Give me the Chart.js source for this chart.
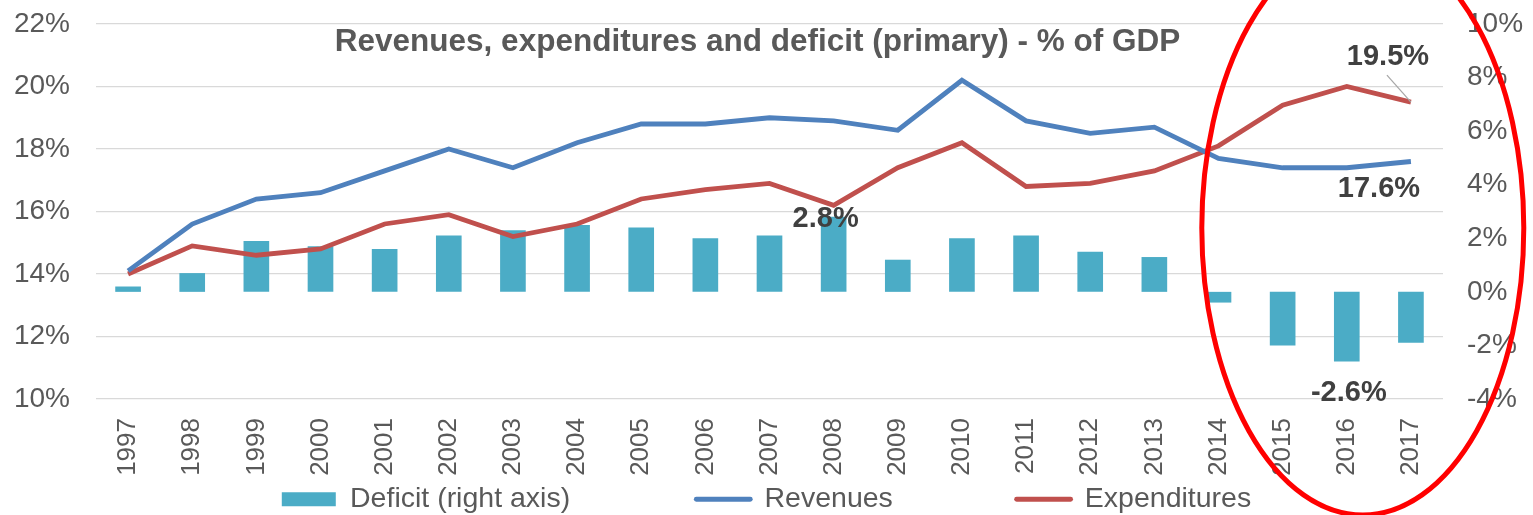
<!DOCTYPE html>
<html>
<head>
<meta charset="utf-8">
<script src="https://cdn.jsdelivr.net/npm/chart.js@4.4.0/dist/chart.umd.min.js"></script>
<style>
  html, body { margin: 0; padding: 0; background: #fff; }
  #wrap { width: 1533px; height: 515px; position: relative; }
</style>
</head>
<body>
<div id="wrap"><canvas id="chart"></canvas></div>
<script>
  const years = ["1997", "1998", "1999", "2000", "2001", "2002", "2003", "2004", "2005", "2006", "2007",
    "2008", "2009", "2010", "2011", "2012", "2013", "2014", "2015", "2016", "2017"];
  // primary deficit, % of GDP (right axis)
  const deficit = [0.2, 0.7, 1.9, 1.7, 1.6, 2.1, 2.3, 2.5, 2.4, 2.0, 2.1, 2.8, 1.2, 2.0, 2.1, 1.5, 1.3, -0.4, -2.0, -2.6, -1.9];
  const revenues = [14.1, 15.6, 16.4, 16.6, 17.3, 18.0, 17.4, 18.2, 18.8, 18.8, 19.0, 18.9, 18.6, 20.2, 18.9, 18.5, 18.7, 17.7, 17.4, 17.4, 17.6];
  const expenditures = [14.0, 14.9, 14.6, 14.8, 15.6, 15.9, 15.2, 15.6, 16.4, 16.7, 16.9, 16.2, 17.4, 18.2, 16.8, 16.9, 17.3, 18.1, 19.4, 20.0, 19.5];
  const leftTicks = [10, 12, 14, 16, 18, 20, 22];
  const rightTicks = [-4, -2, 0, 2, 4, 6, 8, 10];
  const title = "Revenues, expenditures and deficit (primary) - % of GDP";

  const colors = {
    bar: "#4BACC6",
    rev: "#4F81BD",
    exp: "#C0504D",
    text: "#595959",
    label: "#404040",
    grid: "#D9D9D9",
    ring: "#FF0000",
  };
  const FONT = "'Liberation Sans', Arial, sans-serif";

  // callouts: which series / year, plus where the text sits relative to the mark
  const callouts = [
    { ds: 2, year: "2017", dx: -23, dy: -45, leader: true },
    { ds: 1, year: "2017", dx: -32, dy: 27 },
    { ds: 0, year: "2008", dx: -8, dy: 2 },
    { ds: 0, year: "2016", dx: 2, dy: 31 },
  ];

  // legend: width reserved for each label text so boxes land where Excel put them
  const slotWidths = [345, 252];

  function padLabel(ctx, text, target) {
    let s = text;
    while (ctx.measureText(s).width < target) s += "\u200A";
    return s;
  }

  // keep the tick padding from pushing the plot area down
  function fixAxis(width) {
    return (scale) => {
      scale.width = width;
      scale.paddingTop = 17;
      scale.paddingBottom = 17;
    };
  }

  const overlay = {
    id: "overlay",
    afterDatasetsDraw(chart) {
      const { ctx, chartArea, scales } = chart;
      ctx.save();
      // title inside the plot
      ctx.font = `bold 31.5px ${FONT}`;
      ctx.fillStyle = colors.text;
      ctx.textAlign = "center";
      ctx.textBaseline = "middle";
      ctx.fillText(title, (chartArea.left + chartArea.right) / 2 - 12, chartArea.top + 18);

      // value callouts
      callouts.forEach((c) => {
        const i = years.indexOf(c.year);
        const el = chart.getDatasetMeta(c.ds).data[i];
        const v = chart.data.datasets[c.ds].data[i];
        const tx = el.x + c.dx;
        const ty = el.y + c.dy;
        if (c.leader) {
          ctx.strokeStyle = "#A6A6A6";
          ctx.lineWidth = 1.2;
          ctx.beginPath();
          ctx.moveTo(tx - 1, ty + 18);
          ctx.lineTo(el.x, el.y);
          ctx.stroke();
        }
        ctx.font = `bold 29px ${FONT}`;
        ctx.fillStyle = colors.label;
        ctx.fillText(v.toFixed(1) + "%", tx, ty);
      });

      // red ring around the last years
      const cx = scales.x.getPixelForValue(years.indexOf("2016")) + 16;
      ctx.strokeStyle = colors.ring;
      ctx.lineWidth = 5;
      ctx.beginPath();
      ctx.ellipse(cx, 228, 161, 287, 0, 0, Math.PI * 2);
      ctx.stroke();
      ctx.restore();
    },
  };

  new Chart(document.getElementById("chart"), {
    type: "bar",
    data: {
      labels: years,
      datasets: [
        {
          type: "bar",
          label: "Deficit (right axis)",
          data: deficit,
          yAxisID: "y1",
          backgroundColor: colors.bar,
          barPercentage: 0.4,
          categoryPercentage: 1,
          order: 3,
        },
        {
          type: "line",
          label: "Revenues",
          data: revenues,
          yAxisID: "y",
          borderColor: colors.rev,
          backgroundColor: colors.rev,
          borderWidth: 4.8,
          pointRadius: 0,
          tension: 0,
          order: 1,
        },
        {
          type: "line",
          label: "Expenditures",
          data: expenditures,
          yAxisID: "y",
          borderColor: colors.exp,
          backgroundColor: colors.exp,
          borderWidth: 4.8,
          pointRadius: 0,
          tension: 0,
          order: 2,
        },
      ],
    },
    options: {
      responsive: true,
      maintainAspectRatio: false,
      animation: false,
      layout: { padding: { top: 24, left: 0, right: 0, bottom: 0 } },
      plugins: {
        tooltip: { enabled: false },
        legend: {
          position: "bottom",
          maxHeight: 30,
          labels: {
            color: colors.text,
            font: { family: FONT, size: 28.5 },
            padding: 0,
            usePointStyle: true,
            pointStyleWidth: 54,
            boxHeight: 14,
            sort: (a, b) => a.datasetIndex - b.datasetIndex,
            generateLabels(chart) {
              const items = Chart.defaults.plugins.legend.labels.generateLabels(chart);
              const ctx = chart.ctx;
              ctx.save();
              ctx.font = `28.5px ${FONT}`;
              items.sort((a, b) => a.datasetIndex - b.datasetIndex);
              items.forEach((it, k) => {
                const ds = chart.data.datasets[it.datasetIndex];
                if (ds.type === "line") {
                  it.pointStyle = "line";
                  it.strokeStyle = ds.borderColor;
                  it.lineWidth = 4.8;
                  it.lineCap = "round";
                } else {
                  it.pointStyle = "rect";
                  it.fillStyle = ds.backgroundColor;
                  it.strokeStyle = ds.backgroundColor;
                  it.lineWidth = 0;
                }
                if (slotWidths[k]) it.text = padLabel(ctx, it.text, slotWidths[k]);
              });
              ctx.restore();
              return items;
            },
          },
        },
      },
      scales: {
        x: {
          grid: { display: false, drawTicks: false },
          border: { display: false },
          ticks: {
            color: colors.text,
            font: { family: FONT, size: 26 },
            minRotation: 90,
            maxRotation: 90,
            autoSkip: false,
            padding: 19,
          },
          afterFit(scale) { scale.height = 86; },
        },
        y: {
          position: "left",
          min: 10,
          max: 22,
          afterBuildTicks(scale) { scale.ticks = leftTicks.map((v) => ({ value: v })); },
          grid: { color: colors.grid, lineWidth: 1.3, drawTicks: false },
          border: { display: false },
          ticks: {
            color: colors.text,
            font: { family: FONT, size: 28 },
            padding: 26,
            callback: (v) => v + "%",
          },
          afterFit: fixAxis(96),
        },
        y1: {
          position: "right",
          min: -4,
          max: 10,
          afterBuildTicks(scale) { scale.ticks = rightTicks.map((v) => ({ value: v })); },
          grid: { display: false, drawTicks: false },
          border: { display: false },
          ticks: {
            color: colors.text,
            font: { family: FONT, size: 28 },
            padding: 24,
            callback: (v) => v + "%",
          },
          afterFit: fixAxis(90),
        },
      },
    },
    plugins: [overlay],
  });
</script>
</body>
</html>
